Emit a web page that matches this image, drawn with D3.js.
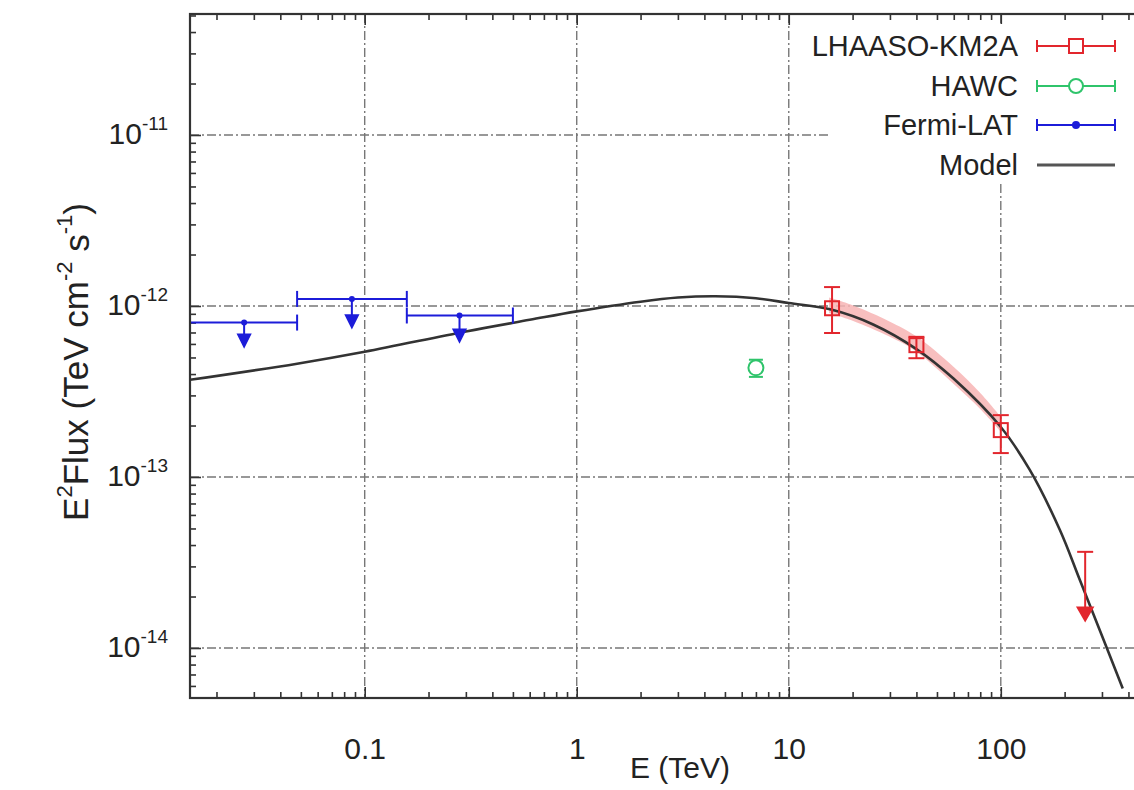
<!DOCTYPE html>
<html>
<head>
<meta charset="utf-8">
<script src="https://cdn.jsdelivr.net/npm/d3@7"></script>
<style>
  html, body { margin: 0; padding: 0; background: #fff; }
  svg { display: block; font-family: "Liberation Sans", Arial, Helvetica, sans-serif; }
</style>
</head>
<body>
<div id="chart"></div>
<script>
// ---- data ----
// Fermi-LAT upper limits (bin centre, bin edges, limit, arrow tip)
const fermiE = [0.027, 0.087, 0.28];
const fermiElo = [0.015, 0.048, 0.158];
const fermiEhi = [0.048, 0.158, 0.5];
const fermiUL = [8.0e-13, 1.1e-12, 8.8e-13];
const fermiTip = [5.8e-13, 7.5e-13, 6.2e-13];

// HAWC
const hawcE = [7.0];
const hawcF = [4.35e-13];
const hawcLo = [3.85e-13];
const hawcHi = [4.85e-13];

// LHAASO-KM2A
const kmE = [16, 40, 100];
const kmF = [9.7e-13, 5.9e-13, 1.88e-13];
const kmLo = [6.95e-13, 4.95e-13, 1.38e-13];
const kmHi = [1.29e-12, 6.6e-13, 2.3e-13];
const kmUlE = [250];
const kmUlF = [3.65e-14];
const kmUlTip = [1.45e-14];

// KM2A fit band
const bandE = [15.5, 20, 30, 40, 60, 80, 100];
const bandHi = [1.12e-12, 1.01e-12, 8.1e-13, 6.65e-13, 4.4e-13, 3.1e-13, 2.25e-13];
const bandLo = [9.1e-13, 8.2e-13, 6.6e-13, 5.4e-13, 3.5e-13, 2.5e-13, 1.84e-13];

// Model curve
const modelE = [0.015, 0.048, 0.1, 0.3, 0.6, 1, 2, 3, 4.5, 7, 10, 16, 25, 40, 60, 100, 137, 190, 236, 293, 376];
const modelF = [3.7e-13, 4.6e-13, 5.4e-13, 7.1e-13, 8.3e-13, 9.3e-13, 1.06e-12, 1.12e-12, 1.14e-12, 1.11e-12,
                1.04e-12, 9.5e-13, 7.8e-13, 5.6e-13, 3.75e-13, 1.96e-13, 1.1e-13, 4.9e-14, 2.5e-14, 1.27e-14, 5.8e-15];

// axes
const xTicks = [0.1, 1, 10, 100];
const xTickLabels = ["0.1", "1", "10", "100"];
const yTicks = [1e-14, 1e-13, 1e-12, 1e-11];
const yTickExps = ["-14", "-13", "-12", "-11"];

const legendNames = ["LHAASO-KM2A", "HAWC", "Fermi-LAT", "Model"];

// ---- drawing ----
const width = 1134, height = 790;
const pLeft = 190, pRight = 1149, pTop = 14, pBottom = 698;

const red = "#e2262d", green = "#2fc46b", blue = "#1c1cd9", dark = "#333";

const svg = d3.select("#chart").append("svg")
  .attr("width", width).attr("height", height);

const x = d3.scaleLog().domain([0.015, 500]).range([pLeft, pRight]);
const y = d3.scaleLog().domain([5.1e-15, 5.1e-11]).range([pBottom, pTop]);

svg.append("defs").append("clipPath").attr("id", "plot")
  .append("rect").attr("x", pLeft).attr("y", pTop)
  .attr("width", pRight - pLeft).attr("height", pBottom - pTop);

// grid
const grid = svg.append("g")
  .attr("stroke", "#777").attr("stroke-width", 1.4)
  .attr("stroke-dasharray", "9,3,2,3");
grid.selectAll("line.gx").data(xTicks).join("line").attr("class", "gx")
  .attr("x1", d => x(d)).attr("x2", d => x(d))
  .attr("y1", pTop).attr("y2", pBottom);
grid.selectAll("line.gy").data(yTicks).join("line").attr("class", "gy")
  .attr("x1", pLeft).attr("x2", pRight)
  .attr("y1", d => y(d)).attr("y2", d => y(d));

// minor tick values
const xMinor = [], yMinor = [];
for (let e = -2; e <= 2; e++) for (let k = 2; k <= 9; k++) {
  const v = k * Math.pow(10, e);
  if (v > 0.015 && v < 500) xMinor.push(v);
}
for (let e = -15; e <= -11; e++) for (let k = 2; k <= 9; k++) {
  const v = k * Math.pow(10, e);
  if (v > 5.1e-15 && v < 5.1e-11) yMinor.push(v);
}

function styleAxis(g) {
  g.select(".domain").remove();
  g.selectAll("line").attr("stroke", dark).attr("stroke-width", 1.6);
}

// bottom
svg.append("g").attr("transform", `translate(0,${pBottom})`)
  .call(d3.axisBottom(x).tickValues(xTicks).tickSize(-11).tickPadding(40)
    .tickFormat((d, i) => xTickLabels[i]))
  .call(styleAxis)
  .call(g => g.selectAll("text").attr("font-size", 30).attr("fill", "#222")
    .attr("font-family", "Liberation Sans, Arial, sans-serif"));
svg.append("g").attr("transform", `translate(0,${pBottom})`)
  .call(d3.axisBottom(x).tickValues(xMinor).tickSize(-6).tickFormat(""))
  .call(styleAxis);
// top
svg.append("g").attr("transform", `translate(0,${pTop})`)
  .call(d3.axisTop(x).tickValues(xTicks).tickSize(-11).tickFormat(""))
  .call(styleAxis);
svg.append("g").attr("transform", `translate(0,${pTop})`)
  .call(d3.axisTop(x).tickValues(xMinor).tickSize(-6).tickFormat(""))
  .call(styleAxis);
// left
svg.append("g").attr("transform", `translate(${pLeft},0)`)
  .call(d3.axisLeft(y).tickValues(yTicks).tickSize(-11).tickPadding(22).tickFormat(""))
  .call(styleAxis)
  .call(g => g.selectAll(".tick text").each(function(d, i) {
    const t = d3.select(this)
      .attr("font-size", 30).attr("fill", "#222").attr("dy", "0.3em")
      .attr("font-family", "Liberation Sans, Arial, sans-serif");
    t.append("tspan").text("10");
    t.append("tspan").attr("font-size", 19).attr("dy", "-0.75em").text(yTickExps[i]);
  }));
svg.append("g").attr("transform", `translate(${pLeft},0)`)
  .call(d3.axisLeft(y).tickValues(yMinor).tickSize(-6).tickFormat(""))
  .call(styleAxis);
// right
svg.append("g").attr("transform", `translate(${pRight},0)`)
  .call(d3.axisRight(y).tickValues(yTicks).tickSize(-11).tickFormat(""))
  .call(styleAxis);
svg.append("g").attr("transform", `translate(${pRight},0)`)
  .call(d3.axisRight(y).tickValues(yMinor).tickSize(-6).tickFormat(""))
  .call(styleAxis);

// legend background (hides grid behind it)
svg.append("rect").attr("x", 828).attr("y", 24)
  .attr("width", pRight - 828).attr("height", 160).attr("fill", "#fff");

const plot = svg.append("g").attr("clip-path", "url(#plot)");

// KM2A band
const bandData = bandE.map((e, i) => ({ e, lo: bandLo[i], hi: bandHi[i] }));
plot.append("path").datum(bandData)
  .attr("fill", "#f7b4b4").attr("opacity", 0.85)
  .attr("d", d3.area().x(d => x(d.e)).y0(d => y(d.lo)).y1(d => y(d.hi)).curve(d3.curveCatmullRom));

// model
const modelData = modelE.map((e, i) => ({ e, f: modelF[i] }));
plot.append("path").datum(modelData)
  .attr("fill", "none").attr("stroke", dark).attr("stroke-width", 2.6)
  .attr("d", d3.line().x(d => x(d.e)).y(d => y(d.f)).curve(d3.curveCatmullRom));

function downTriangle(g, cx, tipY, w, h, color) {
  g.append("path")
    .attr("d", `M${cx - w / 2},${tipY - h}L${cx + w / 2},${tipY - h}L${cx},${tipY}Z`)
    .attr("fill", color);
}

// Fermi-LAT
fermiE.forEach((e, i) => {
  const g = plot.append("g").attr("stroke", blue).attr("stroke-width", 2);
  const yy = y(fermiUL[i]);
  g.append("line").attr("x1", x(fermiElo[i])).attr("x2", x(fermiEhi[i])).attr("y1", yy).attr("y2", yy);
  [fermiElo[i], fermiEhi[i]].forEach(v => g.append("line")
    .attr("x1", x(v)).attr("x2", x(v)).attr("y1", yy - 8).attr("y2", yy + 8));
  const tip = y(fermiTip[i]);
  g.append("line").attr("x1", x(e)).attr("x2", x(e)).attr("y1", yy).attr("y2", tip - 10);
  g.append("circle").attr("cx", x(e)).attr("cy", yy).attr("r", 3).attr("fill", blue).attr("stroke", "none");
  downTriangle(g, x(e), tip, 12, 12, blue);
});

// HAWC
hawcE.forEach((e, i) => {
  const g = plot.append("g").attr("stroke", green).attr("stroke-width", 2).attr("fill", "none");
  const cx = x(e);
  g.append("line").attr("x1", cx).attr("x2", cx).attr("y1", y(hawcHi[i])).attr("y2", y(hawcLo[i]));
  [hawcHi[i], hawcLo[i]].forEach(v => g.append("line")
    .attr("x1", cx - 7).attr("x2", cx + 7).attr("y1", y(v)).attr("y2", y(v)));
  g.append("circle").attr("cx", cx).attr("cy", y(hawcF[i])).attr("r", 7.5).attr("fill", "#fff");
});

// LHAASO-KM2A
kmE.forEach((e, i) => {
  const g = plot.append("g").attr("stroke", red).attr("stroke-width", 2).attr("fill", "none");
  const cx = x(e);
  g.append("line").attr("x1", cx).attr("x2", cx).attr("y1", y(kmHi[i])).attr("y2", y(kmLo[i]));
  [kmHi[i], kmLo[i]].forEach(v => g.append("line")
    .attr("x1", cx - 8).attr("x2", cx + 8).attr("y1", y(v)).attr("y2", y(v)));
  g.append("rect").attr("x", cx - 7).attr("y", y(kmF[i]) - 7).attr("width", 14).attr("height", 14);
});
kmUlE.forEach((e, i) => {
  const g = plot.append("g").attr("stroke", red).attr("stroke-width", 2);
  const cx = x(e), yy = y(kmUlF[i]), tip = y(kmUlTip[i]);
  g.append("line").attr("x1", cx - 8).attr("x2", cx + 8).attr("y1", yy).attr("y2", yy);
  g.append("line").attr("x1", cx).attr("x2", cx).attr("y1", yy).attr("y2", tip - 10);
  downTriangle(g, cx, tip, 15, 13, red);
});

// frame
svg.append("rect").attr("x", pLeft).attr("y", pTop)
  .attr("width", pRight - pLeft).attr("height", pBottom - pTop)
  .attr("fill", "none").attr("stroke", dark).attr("stroke-width", 2.2);

// axis titles
svg.append("text").attr("x", 680).attr("y", 778)
  .attr("text-anchor", "middle").attr("font-size", 30).attr("fill", "#222")
  .text("E (TeV)");

const yt = svg.append("text")
  .attr("transform", "translate(88,362) rotate(-90)")
  .attr("text-anchor", "middle").attr("font-size", 35).attr("fill", "#222");
yt.append("tspan").text("E");
yt.append("tspan").attr("font-size", 22).attr("dy", "-0.75em").text("2");
yt.append("tspan").attr("dy", "0.48em").text("Flux (TeV cm");
yt.append("tspan").attr("font-size", 22).attr("dy", "-0.75em").text("-2");
yt.append("tspan").attr("dy", "0.48em").text(" s");
yt.append("tspan").attr("font-size", 22).attr("dy", "-0.75em").text("-1");
yt.append("tspan").attr("dy", "0.48em").text(")");

// legend
const legY = [46, 86, 125, 165];
const legColors = [red, green, blue, "#555"];
const lx1 = 1037, lx2 = 1115, lmid = 1076;
legendNames.forEach((name, i) => {
  const yy = legY[i];
  svg.append("text").attr("x", 1018).attr("y", yy).attr("dy", "0.35em")
    .attr("text-anchor", "end").attr("font-size", 29).attr("fill", "#222").text(name);
  const g = svg.append("g").attr("stroke", legColors[i]).attr("fill", "none");
  g.append("line").attr("x1", lx1).attr("x2", lx2).attr("y1", yy).attr("y2", yy)
    .attr("stroke-width", i === 3 ? 3 : 2);
  if (i < 3) {
    [lx1, lx2].forEach(v => g.append("line").attr("stroke-width", 2)
      .attr("x1", v).attr("x2", v).attr("y1", yy - 6).attr("y2", yy + 6));
  }
  if (i === 0) g.append("rect").attr("stroke-width", 2).attr("fill", "#fff")
    .attr("x", lmid - 7).attr("y", yy - 7).attr("width", 14).attr("height", 14);
  if (i === 1) g.append("circle").attr("stroke-width", 2).attr("fill", "#fff")
    .attr("cx", lmid).attr("cy", yy).attr("r", 7);
  if (i === 2) g.append("circle").attr("fill", blue).attr("stroke", "none")
    .attr("cx", lmid).attr("cy", yy).attr("r", 4);
});
</script>
</body>
</html>
